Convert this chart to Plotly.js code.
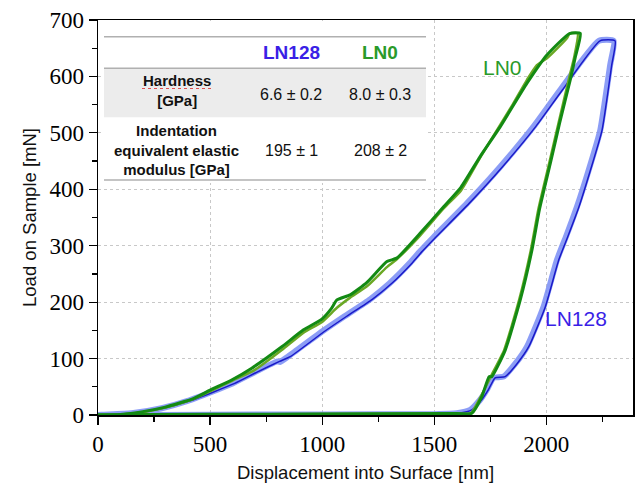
<!DOCTYPE html>
<html>
<head>
<meta charset="utf-8">
<script src="https://cdn.plot.ly/plotly-3.0.1.min.js"></script>
<style>html,body{margin:0;padding:0;background:#fff;}#chart{width:635px;height:485px;}</style>
</head>
<body>
<div id="chart"></div>
<script>
// LN128 – light (thick) repeat
const ln128aX = [0,150,284,400,500,600,700,800,812,850,1000,1100,1214,1300,1393,1437,1497,1646,1795,1943,2062,2234,2301,2285,2241,2190,2137,2090,2048,1988,1914,1860,1809,1765,1735,1705,1661,1601,1500,1000,500,0];
const ln128aY = [0,3,12,25,40,56,76,95,94,104,148,175,205,233,270,290,315,375,440,511,576,663,663,620,505,435,369,318,275,192,121,90,68,66,45,27,9,3,1.5,1,0.6,0];
// LN128 – dark (thin) repeat
const ln128bX = [0,150,290,410,510,610,710,810,860,1010,1110,1224,1310,1403,1447,1507,1656,1805,1953,2072,2240,2307,2292,2249,2198,2146,2098,2056,1996,1922,1868,1817,1772,1742,1712,1668,1608,1500,1000,500,0];
const ln128bY = [0,3,12,25,40,56,76,95,104,148,175,205,233,270,290,315,375,440,511,576,663,663,620,505,435,369,318,275,192,121,90,68,66,45,27,9,3,1.5,1,0.6,0];
// LN0 – light (olive) repeat
const ln0aX = [0,100,200,300,425,500,600,700,820,917,1000,1066,1125,1200,1289,1333,1437,1542,1620,1705,1780,1850,1914,1958,2003,2050,2093,2104,2140,2125,2100,2055,2013,1965,1931,1879,1812,1752,1707,1663,1600,1000,500,0];
const ln0aY = [0,1,5,13,28,42,61,80,115,146,165,190,208,228,262,276,318,366,398,456,505,550,594,620,632,650,668,676,676,635,594,518,446,365,292,204,115,68,32,3,2.5,1.8,1.2,0.5];
// LN0 – dark repeat
const ln0bX = [0,100,200,300,425,500,600,686,820,917,999,1040,1066,1125,1200,1289,1333,1437,1542,1620,1705,1795,1914,2003,2104,2152,2130,2107,2060,2018,1970,1936,1884,1817,1757,1745,1712,1668,1600,1000,500,0];
const ln0bY = [0,1,6,14,29,44,63,83,121,151,170,188,204,213,235,272,278,322,369,404,458,511,588,638,676,676,635,594,518,446,365,292,204,115,68,68,32,3,2.5,1.8,1.2,0.5];

const xTickVals = [0,500,1000,1500,2000];
const yTickVals = [0,100,200,300,400,500,600,700];

const colHeads = ['LN128','LN0'];
const rowHeads = ['Hardness<br>[GPa]','Indentation<br>equivalent elastic<br>modulus [GPa]'];
const cellVals = [['6.6 ± 0.2','8.0 ± 0.3'],['195 ± 1','208 ± 2']];

const sm = 0.5;
const traces = [
  {x: ln128aX, y: ln128aY, mode:'lines', line:{color:'rgba(120,140,245,0.85)', width:6, shape:'spline', smoothing:sm}, name:'LN128 (1)'},
  {x: ln128bX, y: ln128bY, mode:'lines', line:{color:'#1a1ac8', width:1.5, shape:'spline', smoothing:sm}, name:'LN128 (2)'},
  {x: ln0aX, y: ln0aY, mode:'lines', line:{color:'#6aa824', width:2.5, shape:'spline', smoothing:sm}, name:'LN0 (1)'},
  {x: ln0bX, y: ln0bY, mode:'lines', line:{color:'#138a13', width:3, shape:'spline', smoothing:sm}, name:'LN0 (2)'}
];

const L=98, T=20, W=535, H=395;
const px = v => (v-L)/W;
const py = v => (T+H-v)/H;

const SERIF = 'Liberation Serif';
const SANS = 'Liberation Sans';
const shapes = [
  {type:'rect', xref:'paper', yref:'paper', x0:px(104), x1:px(427), y0:py(183), y1:py(21), fillcolor:'#fff', line:{width:0}, layer:'above'},
  {type:'rect', xref:'paper', yref:'paper', x0:px(104), x1:px(426), y0:py(117.3), y1:py(68.3), fillcolor:'#ececec', line:{width:0}, layer:'above'},
  {type:'line', xref:'paper', yref:'paper', x0:px(104), x1:px(426), y0:py(36.7), y1:py(36.7), line:{color:'#b0b0b0', width:1.5}, layer:'above'},
  {type:'line', xref:'paper', yref:'paper', x0:px(104), x1:px(426), y0:py(68.3), y1:py(68.3), line:{color:'#b0b0b0', width:1.5}, layer:'above'},
  {type:'line', xref:'paper', yref:'paper', x0:px(104), x1:px(426), y0:py(180), y1:py(180), line:{color:'#b0b0b0', width:1.5}, layer:'above'},
  {type:'line', xref:'paper', yref:'paper', x0:px(142), x1:px(212), y0:py(88.5), y1:py(88.5), line:{color:'#e05050', width:1, dash:'dot'}, layer:'above'}
];

const annotations = [
  {text:'<b>'+colHeads[0]+'</b>', x:px(291.7), y:py(52.3), font:{family:SANS, size:19, color:'#3a1fe6'}},
  {text:'<b>'+colHeads[1]+'</b>', x:px(380), y:py(52.3), font:{family:SANS, size:19, color:'#2a9a2a'}},
  {text:'<b>'+rowHeads[0]+'</b>', x:px(176.7), y:py(91), font:{family:SANS, size:15, color:'#111'}},
  {text:'<b>'+rowHeads[1]+'</b>', x:px(176.7), y:py(149.5), font:{family:SANS, size:15, color:'#111'}},
  {text:cellVals[0][0], x:px(291), y:py(94), font:{family:SANS, size:16, color:'#111'}},
  {text:cellVals[0][1], x:px(380), y:py(94), font:{family:SANS, size:16, color:'#111'}},
  {text:cellVals[1][0], x:px(291), y:py(150), font:{family:SANS, size:16, color:'#111'}},
  {text:cellVals[1][1], x:px(380), y:py(150), font:{family:SANS, size:16, color:'#111'}},
  {text:'LN0', x:px(502), y:py(67.7), font:{family:SANS, size:21, color:'#2a9a2a'}},
  {text:'LN128', x:px(576.3), y:py(318.3), font:{family:SANS, size:21, color:'#3a1fe6'}}
].map(a => Object.assign({xref:'paper', yref:'paper', showarrow:false, xanchor:'center', yanchor:'middle'}, a));

const layout = {
  width:635, height:485,
  margin:{l:L, r:635-L-W, t:T, b:485-T-H},
  paper_bgcolor:'#fff', plot_bgcolor:'#fff',
  showlegend:false,
  font:{family:SERIF, size:23, color:'#000'},
  xaxis:{
    range:[0,2387], tickmode:'array', tickvals:xTickVals, ticks:'outside', ticklen:8, tickwidth:1.2, tickcolor:'#000',
    showline:true, linecolor:'#000', linewidth:1.5, mirror:true, zeroline:false,
    showgrid:true, gridcolor:'#c8c8c8', griddash:'dot', gridwidth:1,
    minor:{dtick:250, ticks:'outside', ticklen:5, showgrid:false},
    tickfont:{family:SERIF, size:23, color:'#000'},
    title:{text:'Displacement into Surface [nm]', font:{family:SANS, size:18.5, color:'#111'}, standoff:10}
  },
  yaxis:{
    range:[0,700], tickmode:'array', tickvals:yTickVals, ticks:'outside', ticklen:8, tickwidth:1.2, tickcolor:'#000',
    showline:true, linecolor:'#000', linewidth:1.5, mirror:true, zeroline:false,
    showgrid:true, gridcolor:'#c8c8c8', griddash:'dot', gridwidth:1,
    minor:{dtick:50, ticks:'outside', ticklen:5, showgrid:false},
    tickfont:{family:SERIF, size:23, color:'#000'},
    title:{text:'Load on Sample [mN]', font:{family:SANS, size:18.5, color:'#111'}, standoff:8}
  },
  shapes:shapes,
  annotations:annotations,
  hovermode:false
};

Plotly.newPlot('chart', traces, layout, {staticPlot:true, displayModeBar:false});
</script>
</body>
</html>
